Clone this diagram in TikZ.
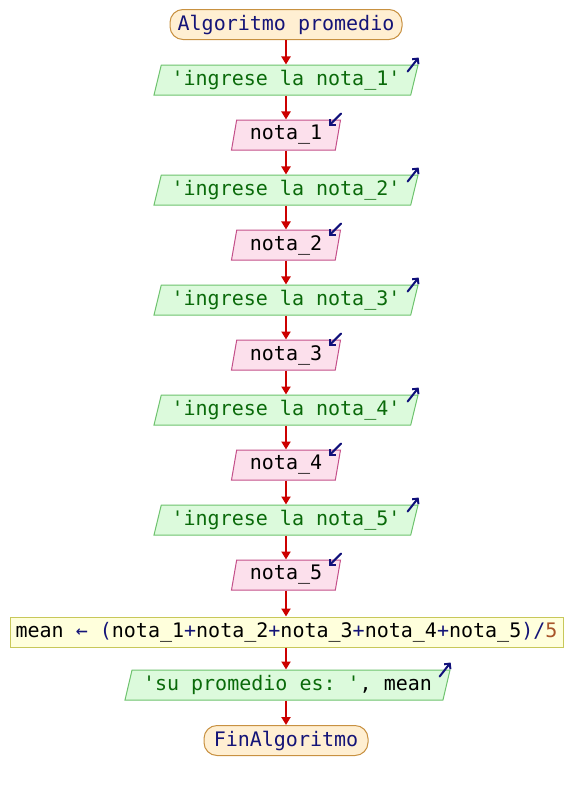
\documentclass[tikz,border=0pt]{standalone}
\usepackage{fontspec}
\setmonofont{DejaVu Sans Mono}
\usetikzlibrary{shapes.geometric,arrows.meta,calc}

\definecolor{termfill}{HTML}{FFEFD2}
\definecolor{termline}{HTML}{C89141}
\definecolor{outfill}{HTML}{DCFADC}
\definecolor{outline}{HTML}{6EC36E}
\definecolor{infill}{HTML}{FCE0EC}
\definecolor{inline}{HTML}{C4508A}
\definecolor{procfill}{HTML}{FFFFDC}
\definecolor{procline}{HTML}{C8C85A}
\definecolor{kwblue}{HTML}{141478}
\definecolor{strgreen}{HTML}{0A6A0A}
\definecolor{numbrown}{HTML}{A8552A}
\definecolor{flowred}{HTML}{CC0000}
\definecolor{markblue}{HTML}{10107A}

\begin{document}
\begin{tikzpicture}[x=1pt,y=-1pt,
  font=\ttfamily\fontsize{20}{24}\selectfont,
  every node/.style={inner sep=0pt, line width=1pt},
  term/.style={draw=termline, fill=termfill, rounded corners=13pt,
    minimum height=30pt, text=kwblue},
  outbox/.style={trapezium, trapezium left angle=70, trapezium right angle=110,
    trapezium stretches body, draw=outline, fill=outfill,
    minimum height=30pt, text=strgreen},
  inbox/.style={trapezium, trapezium left angle=75, trapezium right angle=105,
    trapezium stretches body, draw=inline, fill=infill,
    minimum height=30pt, minimum width=109pt, text=black},
  procbox/.style={rectangle, draw=procline, fill=procfill,
    minimum height=30pt, minimum width=553pt, text=black},
  flow/.style={draw=flowred, line width=2pt, -{Triangle[width=9pt,length=8pt]}},
  iomark/.style={draw=markblue, line width=2pt, line cap=round,
    -{Straight Barb[length=4pt,width=8pt]}}
]
\fill[white] (0,0) rectangle (572,790);
\useasboundingbox (0,0) rectangle (572,790);

% program blocks, top to bottom
\node[term, minimum width=232pt] (start) at (286,24.5) {Algoritmo promedio};

\node[outbox, minimum width=264pt] (o1) at (286,80)  {'ingrese la nota\_1'};
\node[inbox]                       (i1) at (286,135) {nota\_1};
\node[outbox, minimum width=264pt] (o2) at (286,190) {'ingrese la nota\_2'};
\node[inbox]                       (i2) at (286,245) {nota\_2};
\node[outbox, minimum width=264pt] (o3) at (286,300) {'ingrese la nota\_3'};
\node[inbox]                       (i3) at (286,355) {nota\_3};
\node[outbox, minimum width=264pt] (o4) at (286,410) {'ingrese la nota\_4'};
\node[inbox]                       (i4) at (286,465) {nota\_4};
\node[outbox, minimum width=264pt] (o5) at (286,520) {'ingrese la nota\_5'};
\node[inbox]                       (i5) at (286,575) {nota\_5};

\node[procbox] (calc) at (286.5,632) {mean \textcolor{kwblue}{←} \textcolor{kwblue}{(}nota\_1\textcolor{kwblue}{+}nota\_2\textcolor{kwblue}{+}nota\_3\textcolor{kwblue}{+}nota\_4\textcolor{kwblue}{+}nota\_5\textcolor{kwblue}{)/}\textcolor{numbrown}{5}};

\node[outbox, minimum width=325pt] (o6) at (287.5,685) {'su promedio es: '\textcolor{black}{, mean}};

\node[term, minimum width=164pt] (end) at (286,740.5) {FinAlgoritmo};

% flow connectors
\foreach \a/\b in {start/o1, o1/i1, i1/o2, o2/i2, i2/o3, o3/i3, i3/o4,
                   o4/i4, i4/o5, o5/i5, i5/calc, calc/o6, o6/end}
  \draw[flow] (\a.south -| 286,0) -- (\b.north -| 286,0);

% output marks (arrow leaving the block)
\foreach \n in {o1,o2,o3,o4,o5,o6}
  \draw[iomark] ($(\n.top right corner)+(-11,7)$) -- ($(\n.top right corner)+(0,-7)$);

% input marks (arrow entering the block)
\foreach \n in {i1,i2,i3,i4,i5}
  \draw[iomark] ($(\n.top right corner)+(0,-6)$) -- ($(\n.top right corner)+(-12,6)$);
\end{tikzpicture}
\end{document}
